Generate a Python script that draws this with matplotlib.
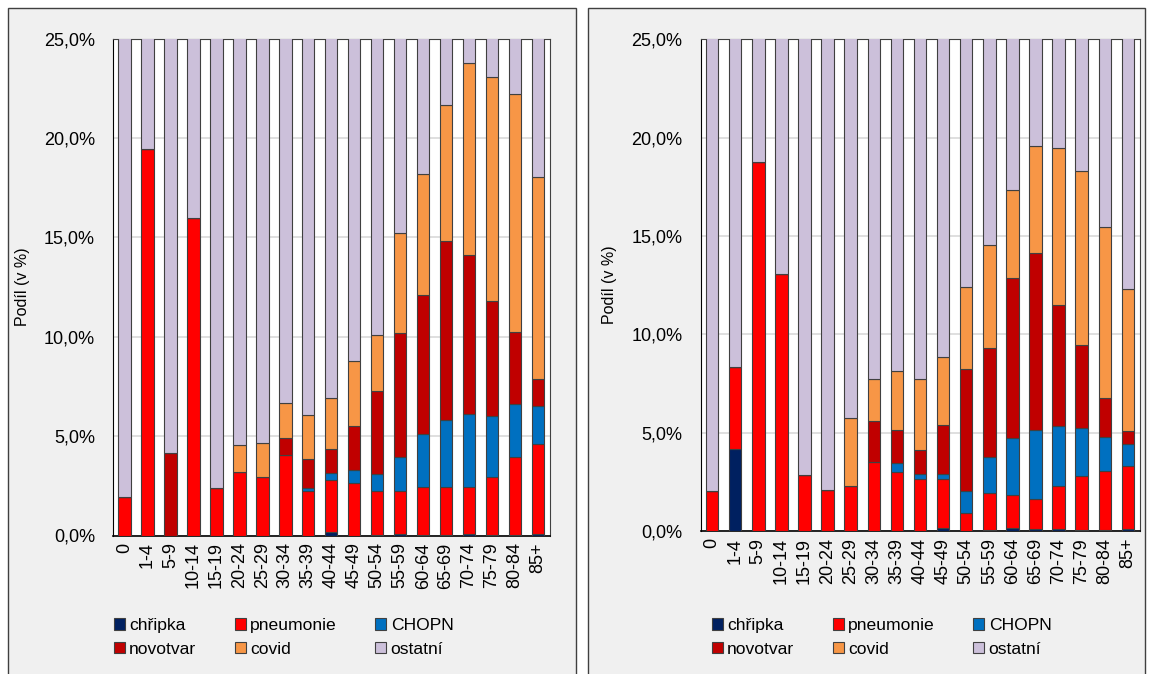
import matplotlib
matplotlib.use("Agg")
import matplotlib.pyplot as plt
from matplotlib.patches import Rectangle, Patch
from matplotlib.ticker import FuncFormatter, MultipleLocator
import numpy as np

plt.rcParams['font.family'] = ['Liberation Sans', 'DejaVu Sans']

# věkové skupiny
ages = ["0", "1-4", "5-9", "10-14", "15-19", "20-24", "25-29", "30-34", "35-39",
        "40-44", "45-49", "50-54", "55-59", "60-64", "65-69", "70-74", "75-79",
        "80-84", "85+"]

series_names = ["chřipka", "pneumonie", "CHOPN", "novotvar", "covid", "ostatní"]
colors = ["#002060", "#FF0000", "#0070C0", "#C00000", "#F79646", "#CCC0DA"]

# levý graf (podíl v %)
left_chripka = [0, 0, 0, 0, 0, 0, 0, 0, 0, 0.18, 0, 0.05, 0.08, 0.03, 0.05, 0.10, 0.04, 0.05, 0.06]
left_pneumonie = [1.95, 19.45, 0, 16.0, 2.4, 3.2, 2.95, 4.07, 2.22, 2.63, 2.65, 2.2, 2.17, 2.39, 2.39, 2.34, 2.92, 3.92, 4.54]
left_chopn = [0, 0, 0, 0, 0, 0, 0, 0, 0.18, 0.33, 0.63, 0.86, 1.72, 2.69, 3.36, 3.69, 3.05, 2.63, 1.92]
left_novotvar = [0, 0, 4.15, 0, 0, 0, 0, 0.85, 1.43, 1.23, 2.25, 4.18, 6.2, 6.97, 9.0, 7.98, 5.78, 3.65, 1.34]
left_covid = [0, 0, 0, 0, 0, 1.35, 1.7, 1.77, 2.23, 2.53, 3.26, 2.81, 5.05, 6.12, 6.86, 9.66, 11.28, 11.99, 10.2]

# pravý graf (podíl v %)
right_chripka = [0, 4.18, 0, 0, 0, 0, 0, 0, 0, 0, 0.15, 0, 0.05, 0.15, 0.10, 0.12, 0.05, 0.05, 0.10]
right_pneumonie = [2.05, 4.17, 18.77, 13.07, 2.85, 2.1, 2.31, 3.51, 3.0, 2.66, 2.48, 0.9, 1.87, 1.7, 1.53, 2.15, 2.73, 2.99, 3.21]
right_chopn = [0, 0, 0, 0, 0, 0, 0, 0, 0.45, 0.26, 0.29, 1.12, 1.85, 2.89, 3.5, 3.08, 2.48, 1.73, 1.1]
right_novotvar = [0, 0, 0, 0, 0, 0, 0, 2.09, 1.69, 1.19, 2.46, 6.21, 5.55, 8.14, 8.99, 6.16, 4.21, 1.97, 0.68]
right_covid = [0, 0, 0, 0, 0, 0, 3.46, 2.12, 3.01, 3.63, 3.49, 4.16, 5.21, 4.48, 5.47, 7.94, 8.84, 8.7, 7.22]

W, H = 1155, 674
fig = plt.figure(figsize=(W / 100, H / 100), dpi=100)
fig.patch.set_facecolor("white")

# rámečky panelů
for x0, x1 in [(8, 576), (588, 1145)]:
    fig.patches.append(Rectangle((x0 / W, -0.05), (x1 - x0) / W, 1.05 - 8 / H,
                                 transform=fig.transFigure, facecolor="#F0F0F0",
                                 edgecolor="#404040", linewidth=1.0, zorder=-1))


def fmt(v, pos):
    return f"{v:.1f}".replace(".", ",") + "%"


def draw(rect, parts, legend_x):
    l, r, t, b = rect
    ax = fig.add_axes([l / W, (H - b) / H, (r - l) / W, (b - t) / H])
    ax.set_zorder(2)
    ax.set_facecolor("white")
    x = np.arange(len(ages))
    vals = [np.array(p, dtype=float) for p in parts]
    ostatni = 100 - sum(vals)
    vals.append(ostatni)
    bottom = np.zeros(len(ages))
    for v, c in zip(vals, colors):
        ax.bar(x, v, bottom=bottom, width=0.54, color=c, edgecolor="#404040",
               linewidth=0.8, zorder=3)
        bottom += v
    ax.set_ylim(0, 25)
    ax.set_xlim(-0.5, len(ages) - 0.5)
    ax.yaxis.set_major_locator(MultipleLocator(5))
    ax.yaxis.set_major_formatter(FuncFormatter(fmt))
    ax.grid(axis="y", color="#D9D9D9", linewidth=1.2, zorder=0)
    ax.set_axisbelow(True)
    ax.set_xticks(x)
    ax.set_xticklabels(ages, rotation=90)
    ax.tick_params(axis="y", length=0, pad=13, labelsize=13)
    ax.tick_params(axis="x", length=0, pad=5, labelsize=13)
    for s in ax.spines.values():
        s.set_color("#404040")
        s.set_linewidth(0.8)
    ax.spines["left"].set_color("black")
    ax.spines["bottom"].set_color("black")
    ax.spines["bottom"].set_linewidth(1.2)
    ax.set_ylabel("Podíl (v %)", fontsize=11.5, labelpad=10)

    handles = [Patch(facecolor=c, edgecolor="#404040", linewidth=0.8) for c in colors]
    order = [0, 3, 1, 4, 2, 5]
    fig.legend([handles[i] for i in order], [series_names[i] for i in order],
               ncol=3, loc="upper left", bbox_to_anchor=(legend_x / W, (H - 618) / H),
               frameon=False, fontsize=12.6, handlelength=0.62, handleheight=0.62,
               handletextpad=0.25, columnspacing=2.2, labelspacing=0.5,
               borderpad=0, borderaxespad=0)
    return ax


draw((113, 549.5, 38.7, 535.5),
     [left_chripka, left_pneumonie, left_chopn, left_novotvar, left_covid], 114)
draw((700.5, 1139.5, 39.3, 531),
     [right_chripka, right_pneumonie, right_chopn, right_novotvar, right_covid], 712)

fig.savefig("out.png", dpi=100, facecolor=fig.get_facecolor())
